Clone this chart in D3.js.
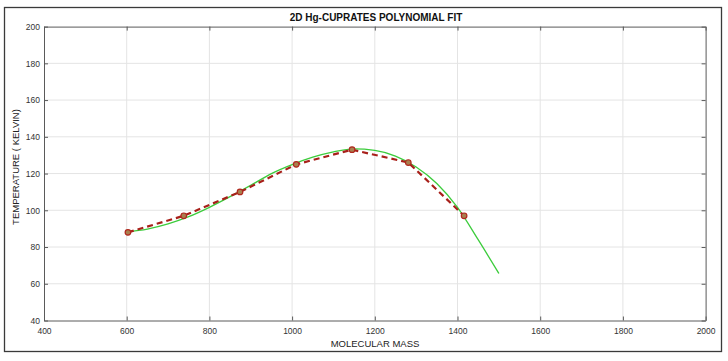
<!DOCTYPE html>
<html>
<head>
<meta charset="utf-8">
<script src="https://cdn.jsdelivr.net/npm/d3@7"></script>
<style>
  html, body { margin: 0; padding: 0; background: #fff; }
  svg { display: block; font-family: "Liberation Sans", Arial, sans-serif; }
</style>
</head>
<body>
<svg id="chart" width="728" height="361"></svg>
<script>
// Measured data points (molecular mass, Tc)
const massValues = [603, 738, 874, 1010, 1145, 1281, 1416];
const tempValues = [88, 97, 110, 125, 133, 126, 97];

// Polynomial fit curve
const fitMass = [600, 650, 700, 750, 800, 850, 900, 950, 1000, 1050, 1100, 1150, 1200, 1250, 1300, 1350, 1400, 1450, 1500];
const fitTemp = [88.3, 89.8, 92.6, 96.5, 101.6, 107.4, 113.6, 120.0, 124.9, 128.9, 131.8, 133.4, 132.6, 129.5, 123.6, 114.6, 101.6, 84.0, 65.6];

const xTicks = [400, 600, 800, 1000, 1200, 1400, 1600, 1800, 2000];
const yTicks = [40, 60, 80, 100, 120, 140, 160, 180, 200];

const titleText = "2D Hg-CUPRATES POLYNOMIAL FIT";
const xLabelText = "MOLECULAR MASS";
const yLabelText = "TEMPERATURE ( KELVIN)";

const svg = d3.select("#chart");
const L = 44, R = 705.6, T = 26.6, B = 320.5;

const x = d3.scaleLinear().domain([400, 2000]).range([L, R]);
const y = d3.scaleLinear().domain([40, 200]).range([B, T]);

// outer frame
svg.append("rect").attr("x", 4.5).attr("y", 7.5).attr("width", 717).attr("height", 344)
  .attr("fill", "#fff").attr("stroke", "#3a3a3a").attr("stroke-width", 1.3);

// grid
const g = svg.append("g");
g.selectAll(".gx").data(xTicks.slice(1, -1)).join("line")
  .attr("x1", d => x(d)).attr("x2", d => x(d)).attr("y1", T).attr("y2", B)
  .attr("stroke", "#e4e4e4").attr("stroke-width", 1);
g.selectAll(".gy").data(yTicks.slice(1, -1)).join("line")
  .attr("x1", L).attr("x2", R).attr("y1", d => y(d)).attr("y2", d => y(d))
  .attr("stroke", "#e4e4e4").attr("stroke-width", 1);

// axes (inward ticks, box)
const tickLen = 4;
const axisColor = "#5a5a5a";
const fmt = d3.format("d");
const xb = svg.append("g").attr("transform", `translate(0,${B})`)
  .call(d3.axisBottom(x).tickValues(xTicks).tickFormat(fmt).tickSizeInner(-tickLen).tickSizeOuter(0).tickPadding(7));
const xt = svg.append("g").attr("transform", `translate(0,${T})`)
  .call(d3.axisTop(x).tickValues(xTicks).tickSizeInner(-tickLen).tickSizeOuter(0).tickFormat(""));
const yl = svg.append("g").attr("transform", `translate(${L},0)`)
  .call(d3.axisLeft(y).tickValues(yTicks).tickFormat(fmt).tickSizeInner(-tickLen).tickSizeOuter(0).tickPadding(7));
const yr = svg.append("g").attr("transform", `translate(${R},0)`)
  .call(d3.axisRight(y).tickValues(yTicks).tickSizeInner(-tickLen).tickSizeOuter(0).tickFormat(""));
[xb, xt, yl, yr].forEach(a => {
  a.select(".domain").attr("stroke", axisColor).attr("stroke-width", 1);
  a.selectAll(".tick line").attr("stroke", axisColor);
  a.selectAll("text").attr("fill", "#333").attr("font-size", 8.5)
    .attr("font-family", "Liberation Sans, Arial, sans-serif");
});
yl.selectAll("text").attr("dx", 3);

// fit curve
const line = d3.line().x(d => x(d[0])).y(d => y(d[1])).curve(d3.curveMonotoneX);
svg.append("path").datum(d3.zip(fitMass, fitTemp)).attr("d", line)
  .attr("fill", "none").attr("stroke", "#3ccc3c").attr("stroke-width", 1.3);

// measured dashed line
const line2 = d3.line().x(d => x(d[0])).y(d => y(d[1]));
svg.append("path").datum(d3.zip(massValues, tempValues)).attr("d", line2)
  .attr("fill", "none").attr("stroke", "#a8201a").attr("stroke-width", 2.2)
  .attr("stroke-dasharray", "6,4");

svg.selectAll(".pt").data(d3.zip(massValues, tempValues)).join("circle")
  .attr("cx", d => x(d[0])).attr("cy", d => y(d[1])).attr("r", 2.8)
  .attr("fill", "#a9804f").attr("stroke", "#b0281e").attr("stroke-width", 1.2);

// texts
svg.append("text").attr("x", 376).attr("y", 21.3).attr("text-anchor", "middle")
  .attr("font-size", 10).attr("font-weight", "bold").attr("fill", "#111").text(titleText);
svg.append("text").attr("x", 375).attr("y", 346.5).attr("text-anchor", "middle")
  .attr("font-size", 9.5).attr("fill", "#222").text(xLabelText);
svg.append("text").attr("transform", "translate(18.5,167) rotate(-90)").attr("text-anchor", "middle")
  .attr("font-size", 9.5).attr("fill", "#222").text(yLabelText);
</script>
</body>
</html>
